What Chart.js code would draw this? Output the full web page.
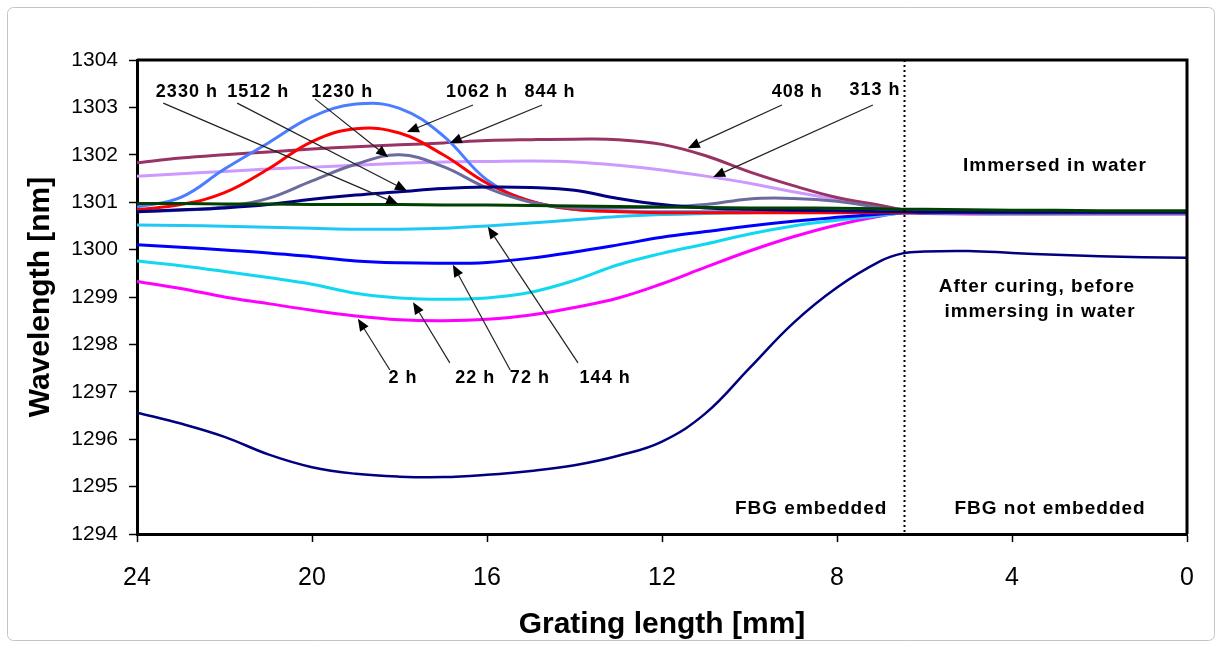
<!DOCTYPE html>
<html>
<head>
<meta charset="utf-8">
<script src="https://cdn.jsdelivr.net/npm/chart.js@4.4.1/dist/chart.umd.min.js"></script>
<style>
  html, body { margin: 0; padding: 0; background: #fff; }
  #wrap { position: absolute; left: 0; top: 0; width: 1222px; height: 648px; }
</style>
</head>
<body>
<div id="wrap"><canvas id="fbgChart" width="1222" height="648"></canvas></div>
<script>
// grating positions [mm] shared by every curve
const gratingMm = [24, 23, 22, 21, 20, 19, 18, 17, 16, 15, 14, 13, 12, 11, 10, 9, 8, 7, 6.5, 6, 5, 4, 3, 2, 1, 0];

// Bragg wavelength [nm]
const afterCuring = [1296.56, 1296.33, 1296.05, 1295.68, 1295.41, 1295.27, 1295.21, 1295.2, 1295.25, 1295.33, 1295.45, 1295.65, 1295.95, 1296.55, 1297.5, 1298.45, 1299.2, 1299.76, 1299.92, 1299.96, 1299.97, 1299.93, 1299.89, 1299.86, 1299.84, 1299.83];
const h2    = [1299.33, 1299.18, 1299.0, 1298.86, 1298.72, 1298.6, 1298.52, 1298.5, 1298.53, 1298.62, 1298.78, 1298.98, 1299.28, 1299.63, 1299.97, 1300.27, 1300.52, 1300.71, 1300.77, 1300.76, 1300.75, 1300.75, 1300.75, 1300.75, 1300.75, 1300.75];
const h22   = [1299.76, 1299.66, 1299.54, 1299.41, 1299.27, 1299.08, 1298.98, 1298.95, 1298.98, 1299.1, 1299.35, 1299.68, 1299.92, 1300.12, 1300.33, 1300.5, 1300.62, 1300.72, 1300.77, 1300.77, 1300.77, 1300.76, 1300.76, 1300.76, 1300.76, 1300.76];
const h72   = [1300.1, 1300.05, 1299.99, 1299.93, 1299.85, 1299.76, 1299.72, 1299.71, 1299.73, 1299.82, 1299.95, 1300.1, 1300.26, 1300.38, 1300.5, 1300.6, 1300.68, 1300.75, 1300.78, 1300.78, 1300.78, 1300.78, 1300.78, 1300.77, 1300.77, 1300.77];
const h144  = [1300.52, 1300.51, 1300.49, 1300.47, 1300.45, 1300.43, 1300.43, 1300.45, 1300.5, 1300.56, 1300.63, 1300.7, 1300.74, 1300.76, 1300.78, 1300.79, 1300.8, 1300.8, 1300.8, 1300.78, 1300.76, 1300.75, 1300.75, 1300.75, 1300.75, 1300.75];
const h313  = [1301.55, 1301.6, 1301.65, 1301.7, 1301.74, 1301.78, 1301.82, 1301.85, 1301.86, 1301.87, 1301.85, 1301.78, 1301.68, 1301.55, 1301.4, 1301.22, 1301.06, 1300.92, 1300.84, 1300.8, 1300.78, 1300.77, 1300.77, 1300.77, 1300.77, 1300.77];
const h408  = [1301.83, 1301.93, 1302.0, 1302.06, 1302.12, 1302.17, 1302.21, 1302.25, 1302.3, 1302.32, 1302.33, 1302.32, 1302.22, 1301.98, 1301.64, 1301.35, 1301.1, 1300.93, 1300.84, 1300.8, 1300.78, 1300.77, 1300.77, 1300.77, 1300.77, 1300.77];
const h844  = [1300.9, 1301.1, 1301.7, 1302.25, 1302.8, 1303.07, 1302.98, 1302.4, 1301.47, 1301.02, 1300.85, 1300.81, 1300.8, 1300.8, 1300.8, 1300.8, 1300.8, 1300.8, 1300.8, 1300.79, 1300.78, 1300.78, 1300.78, 1300.78, 1300.78, 1300.78];
const h1062 = [1300.84, 1300.95, 1301.2, 1301.7, 1302.28, 1302.55, 1302.46, 1302.0, 1301.4, 1301.02, 1300.85, 1300.8, 1300.78, 1300.78, 1300.78, 1300.78, 1300.78, 1300.78, 1300.78, 1300.78, 1300.78, 1300.78, 1300.78, 1300.78, 1300.78, 1300.78];
const h1230 = [1300.8, 1300.83, 1300.9, 1301.08, 1301.45, 1301.8, 1302.0, 1301.75, 1301.3, 1301.0, 1300.88, 1300.88, 1300.9, 1300.95, 1301.07, 1301.08, 1301.02, 1300.88, 1300.82, 1300.79, 1300.78, 1300.78, 1300.78, 1300.78, 1300.78, 1300.78];
const h1512 = [1300.8, 1300.84, 1300.88, 1300.95, 1301.06, 1301.15, 1301.22, 1301.29, 1301.32, 1301.31, 1301.25, 1301.08, 1300.95, 1300.88, 1300.85, 1300.83, 1300.82, 1300.8, 1300.8, 1300.79, 1300.79, 1300.79, 1300.79, 1300.79, 1300.79, 1300.79];
const h2330 = [1300.97, 1300.97, 1300.96, 1300.96, 1300.95, 1300.95, 1300.95, 1300.94, 1300.94, 1300.93, 1300.92, 1300.91, 1300.9, 1300.89, 1300.88, 1300.88, 1300.87, 1300.86, 1300.85, 1300.85, 1300.84, 1300.83, 1300.83, 1300.82, 1300.82, 1300.82];

const xTicks = [24, 20, 16, 12, 8, 4, 0];
const embedBoundaryMm = 6.47;

const FONT = '"Liberation Sans", Arial, sans-serif';

// label text, label centre, arrow tail, arrow tip (data coords)
const arrowNotes = [
    { text: '2330 h', at: [22.86, 1303.32], from: [23.4, 1303.09], to: [18.03, 1300.96] },
    { text: '1512 h', at: [21.23, 1303.32], from: [21.71, 1303.09], to: [17.83, 1301.24] },
    { text: '1230 h', at: [19.31, 1303.32], from: [19.93, 1303.18], to: [18.26, 1301.95] },
    { text: '1062 h', at: [16.23, 1303.32], from: [16.32, 1303.05], to: [17.83, 1302.48] },
    { text: '844 h',  at: [14.56, 1303.32], from: [14.74, 1303.05], to: [16.85, 1302.25] },
    { text: '408 h',  at: [8.91, 1303.32],  from: [9.26, 1303.05],  to: [11.41, 1302.14] },
    { text: '313 h',  at: [7.13, 1303.37],  from: [7.18, 1303.05],  to: [10.83, 1301.53] },
    { text: '2 h',    at: [17.92, 1297.29], from: [18.22, 1297.46], to: [18.95, 1298.54] },
    { text: '22 h',   at: [16.27, 1297.29], from: [16.85, 1297.61], to: [17.69, 1298.89] },
    { text: '72 h',   at: [15.02, 1297.29], from: [15.47, 1297.46], to: [16.78, 1299.68] },
    { text: '144 h',  at: [13.3, 1297.29],  from: [13.92, 1297.61], to: [15.98, 1300.48] }
];

const plainNotes = [
    { text: 'Immersed in water', at: [3.02, 1301.76] },
    { text: 'After curing, before', at: [3.43, 1299.21] },
    { text: 'immersing in water', at: [3.36, 1298.68] },
    { text: 'FBG embedded', at: [8.59, 1294.53] },
    { text: 'FBG not embedded', at: [3.13, 1294.53] }
];

function toPoints(ys) {
    return gratingMm.map((x, i) => ({ x: x, y: ys[i] }));
}

function series(label, ys, color, width) {
    return {
        label: label,
        data: toPoints(ys),
        showLine: true,
        borderColor: color,
        backgroundColor: color,
        borderWidth: width || 3,
        pointRadius: 0,
        tension: 0.4,
        fill: false
    };
}

// outer rounded frame behind the chart
const framePlugin = {
    id: 'frame',
    beforeDraw(chart) {
        const ctx = chart.ctx;
        ctx.save();
        ctx.fillStyle = '#fff';
        ctx.fillRect(0, 0, chart.width, chart.height);
        ctx.strokeStyle = '#c4c4c4';
        ctx.lineWidth = 1;
        ctx.beginPath();
        ctx.roundRect(7.5, 7.5, 1207, 633, 6);
        ctx.stroke();
        ctx.restore();
    }
};

// box, boundary line, arrows and labels on top
const notesPlugin = {
    id: 'notes',
    afterDatasetsDraw(chart) {
        const { ctx, chartArea: a, scales: { x, y } } = chart;
        ctx.save();

        // dotted boundary between embedded / not embedded
        const bx = Math.round(x.getPixelForValue(embedBoundaryMm)) + 0.5;
        ctx.strokeStyle = '#000';
        ctx.lineWidth = 2;
        ctx.setLineDash([2, 3]);
        ctx.beginPath();
        ctx.moveTo(bx, a.top);
        ctx.lineTo(bx, a.bottom);
        ctx.stroke();
        ctx.setLineDash([]);

        // top and right edges of the plot box
        ctx.lineWidth = 3;
        ctx.beginPath();
        ctx.moveTo(a.left, a.top);
        ctx.lineTo(a.right, a.top);
        ctx.lineTo(a.right, a.bottom);
        ctx.stroke();

        // arrows
        arrowNotes.forEach(n => {
            const x0 = x.getPixelForValue(n.from[0]), y0 = y.getPixelForValue(n.from[1]);
            const x1 = x.getPixelForValue(n.to[0]), y1 = y.getPixelForValue(n.to[1]);
            const ang = Math.atan2(y1 - y0, x1 - x0);
            const len = 12, half = 5;
            const bxp = x1 - len * Math.cos(ang), byp = y1 - len * Math.sin(ang);
            ctx.strokeStyle = '#222';
            ctx.lineWidth = 1.2;
            ctx.beginPath();
            ctx.moveTo(x0, y0);
            ctx.lineTo(bxp, byp);
            ctx.stroke();
            ctx.fillStyle = '#000';
            ctx.beginPath();
            ctx.moveTo(x1, y1);
            ctx.lineTo(bxp + half * Math.sin(ang), byp - half * Math.cos(ang));
            ctx.lineTo(bxp - half * Math.sin(ang), byp + half * Math.cos(ang));
            ctx.closePath();
            ctx.fill();
        });

        // texts
        ctx.fillStyle = '#000';
        ctx.textAlign = 'center';
        ctx.textBaseline = 'middle';
        ctx.letterSpacing = '1px';
        ctx.font = 'bold 18px ' + FONT;
        arrowNotes.forEach(n => {
            ctx.fillText(n.text, x.getPixelForValue(n.at[0]), y.getPixelForValue(n.at[1]));
        });
        ctx.font = 'bold 19px ' + FONT;
        plainNotes.forEach(n => {
            ctx.fillText(n.text, x.getPixelForValue(n.at[0]), y.getPixelForValue(n.at[1]));
        });
        ctx.restore();
    }
};

const ctx = document.getElementById('fbgChart').getContext('2d');

new Chart(ctx, {
    type: 'scatter',
    data: {
        datasets: [
            series('2330 h', h2330, '#004000'),
            series('1512 h', h1512, '#000080'),
            series('1230 h', h1230, '#6B6B9E'),
            series('1062 h', h1062, '#FF0000'),
            series('844 h', h844, '#4A7DFF'),
            series('408 h', h408, '#993366'),
            series('313 h', h313, '#CC99FF'),
            series('144 h', h144, '#22C8F5'),
            series('72 h', h72, '#0000FF'),
            series('22 h', h22, '#10D8F0'),
            series('2 h', h2, '#FF00FF'),
            series('After curing', afterCuring, '#000080', 2.5)
        ]
    },
    options: {
        responsive: false,
        animation: false,
        events: [],
        layout: { padding: { left: 0, right: 35, top: 60, bottom: 0 } },
        plugins: {
            legend: { display: false },
            tooltip: { enabled: false }
        },
        scales: {
            x: {
                type: 'linear',
                reverse: true,
                min: 0,
                max: 24,
                afterFit: s => { s.height = 114; },
                afterBuildTicks: s => { s.ticks = xTicks.map(v => ({ value: v })); },
                grid: { display: true, drawOnChartArea: false, drawTicks: true, tickLength: 8, tickColor: '#000', tickWidth: 1.5 },
                border: { display: true, color: '#000', width: 3 },
                ticks: { color: '#000', font: { family: FONT, size: 25 }, padding: 21, maxRotation: 0, callback: v => String(v) },
                title: { display: true, text: 'Grating length [mm]', color: '#000', font: { family: FONT, size: 30, weight: 'bold' }, padding: { top: 0, bottom: 5 } }
            },
            y: {
                type: 'linear',
                min: 1294,
                max: 1304,
                afterFit: s => { s.width = 137; },
                grid: { display: true, drawOnChartArea: false, drawTicks: true, tickLength: 8, tickColor: '#000', tickWidth: 1.5 },
                border: { display: true, color: '#000', width: 3 },
                ticks: { stepSize: 1, color: '#000', font: { family: FONT, size: 21 }, padding: 11, callback: v => String(v) },
                title: { display: true, text: 'Wavelength [nm]', color: '#000', font: { family: FONT, size: 30, weight: 'bold' }, padding: { top: 23, bottom: 0 } }
            }
        }
    },
    plugins: [framePlugin, notesPlugin]
});
</script>
</body>
</html>
